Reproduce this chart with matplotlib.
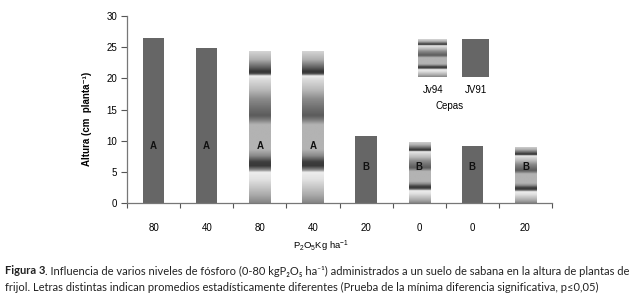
import numpy as np
import matplotlib
matplotlib.use('Agg')
import matplotlib.pyplot as plt

plt.rcParams['font.family'] = ['Liberation Sans', 'DejaVu Sans']
plt.rcParams['mathtext.fontset'] = 'custom'
plt.rcParams['mathtext.rm'] = 'Liberation Sans'
plt.rcParams['mathtext.it'] = 'Liberation Sans:italic'

# data
dose_labels = ['80', '40', '80', '40', '20', '0', '0', '20']
heights = [26.5, 24.9, 24.4, 24.4, 10.7, 9.8, 9.2, 9.0]
strain = ['JV91', 'JV91', 'Jv94', 'Jv94', 'JV91', 'Jv94', 'JV91', 'Jv94']
letters = ['A', 'A', 'A', 'A', 'B', 'B', 'B', 'B']
letter_y = {'A': 9.2, 'B': 5.8}

solid = '#666666'
# grey profile of the striped fill, top (0) to bottom (1)
stops_t = [0.0, 0.06, 0.112, 0.138, 0.151, 0.161, 0.168, 0.191, 0.257, 0.322,
           0.388, 0.428, 0.454, 0.487, 0.651, 0.691, 0.730, 0.757, 0.776,
           0.789, 0.799, 0.849, 0.947, 1.0]
stops_g = [0.85, 0.69, 0.38, 0.21, 0.25, 0.56, 0.93, 0.86, 0.73, 0.54,
           0.42, 0.36, 0.48, 0.70, 0.70, 0.54, 0.25, 0.22, 0.44,
           0.63, 0.93, 0.88, 0.67, 0.52]
grad = np.interp(np.linspace(0, 1, 400), stops_t, stops_g).reshape(-1, 1)

fig = plt.figure(figsize=(6.39, 3.08), dpi=100)
ax = fig.add_axes([127 / 639, 1 - 203.3 / 308, 425 / 639, 187.3 / 308])

x = np.arange(len(heights))
bars = ax.bar(x, heights, width=0.4, color=solid, linewidth=0, zorder=2)
for b, s in zip(bars, strain):
    if s == 'Jv94':
        b.set_facecolor('none')
        im = ax.imshow(grad, cmap='gray', vmin=0, vmax=1, aspect='auto',
                       interpolation='bilinear', origin='upper',
                       extent=[b.get_x(), b.get_x() + b.get_width(), 0, b.get_height()],
                       zorder=1)
        im.set_clip_path(b)

for xi, l in zip(x, letters):
    ax.text(xi, letter_y[l], l, ha='center', va='center', fontsize=7,
            fontweight='bold', color='#111111', zorder=3)

ax.set_xlim(-0.5, 7.5)
ax.set_ylim(0, 30)
ax.set_yticks(np.arange(0, 31, 5))
ax.set_xticks(x)
ax.set_xticklabels(dose_labels)
ax.set_xticks(np.arange(-0.5, 8, 1), minor=True)
ax.tick_params(axis='x', which='major', length=0, pad=14, labelsize=7)
ax.tick_params(axis='x', which='minor', length=3.5, width=0.8, color='#555555')
ax.tick_params(axis='y', length=4, width=0.8, color='#555555', pad=3, labelsize=7)
for side in ['top', 'right']:
    ax.spines[side].set_visible(False)
for side in ['left', 'bottom']:
    ax.spines[side].set_color('#777777')
    ax.spines[side].set_linewidth(0.9)

ax.set_ylabel('Altura (cm  planta⁻¹)', fontsize=7, fontweight='bold')
ax.yaxis.set_label_coords(-0.082, 0.45)

fig.text(321 / 639, 1 - 246 / 308, r'P$_2$O$_5$Kg ha$^{-1}$', ha='center',
         va='center', fontsize=6.8)

# legend drawn by hand: swatch above name, title underneath
lg1 = fig.add_axes([418 / 639, 1 - 77 / 308, 29 / 639, 38 / 308])
lg1.imshow(grad, cmap='gray', vmin=0, vmax=1, aspect='auto', interpolation='bilinear')
lg1.axis('off')
lg2 = fig.add_axes([462 / 639, 1 - 77 / 308, 27 / 639, 38 / 308])
lg2.set_facecolor(solid)
lg2.set_xticks([])
lg2.set_yticks([])
for sp in lg2.spines.values():
    sp.set_visible(False)
fig.text(433 / 639, 1 - 90 / 308, 'Jv94', ha='center', va='center', fontsize=7)
fig.text(476 / 639, 1 - 90 / 308, 'JV91', ha='center', va='center', fontsize=7)
fig.text(450 / 639, 1 - 106 / 308, 'Cepas', ha='center', va='center', fontsize=7)

# caption
cap_font = ['Lato', 'DejaVu Sans']
cap_col = '#222222'
cap_size = 8.05
t1 = fig.text(5 / 639, 1 - 271 / 308, 'Figura 3', ha='left', va='center',
              fontsize=cap_size, fontweight='bold', family=cap_font, color=cap_col)
fig.canvas.draw()
r = fig.canvas.get_renderer()
bb = t1.get_window_extent(r)
fig.text((bb.x1) / 639, 1 - 271 / 308,
         '. Influencia de varios niveles de fósforo (0-80 kgP₂O₅ ha⁻¹) administrados a un suelo de sabana en la altura de plantas de',
         ha='left', va='center', fontsize=cap_size, family=cap_font, color=cap_col)
fig.text(5 / 639, 1 - 287 / 308,
         'frijol. Letras distintas indican promedios estadísticamente diferentes (Prueba de la mínima diferencia significativa, p≤0,05)',
         ha='left', va='center', fontsize=cap_size, family=cap_font, color=cap_col)

fig.savefig('out.png', dpi=100)
